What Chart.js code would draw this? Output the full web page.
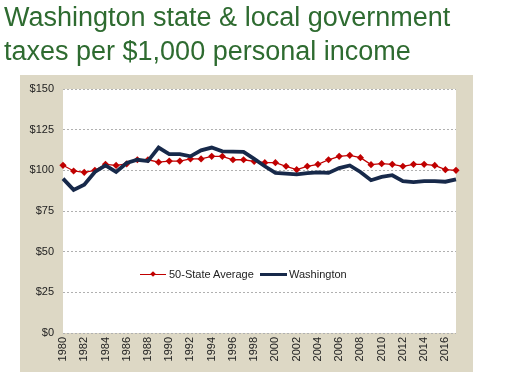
<!DOCTYPE html>
<html>
<head>
<meta charset="utf-8">
<script src="https://cdn.jsdelivr.net/npm/chart.js@4"></script>
<style>
  html, body { margin: 0; padding: 0; background: #ffffff; }
  body { width: 505px; height: 381px; position: relative; overflow: hidden; font-family: "Liberation Sans", Arial, sans-serif; }
  #title { position: absolute; left: 4px; top: 0px; margin: 0; font-size: 27px; line-height: 34px; font-weight: normal; color: #2e6b30; white-space: nowrap; }
  #wrap { position: absolute; left: 0; top: 0; width: 505px; height: 381px; }
  #legend { position: absolute; top: 267px; left: 140px; height: 14px; font-size: 11px; color: #222; }
  .item { position: absolute; top: 0; white-space: nowrap; line-height: 14px; }
  .ln { position: absolute; }
  .dia { position: absolute; width: 4px; height: 4px; background: #c00000; transform: rotate(45deg); }
</style>
</head>
<body>
<div id="wrap"><canvas id="c" width="505" height="381"></canvas></div>
<h1 id="title">Washington state &amp; local government<br>taxes per $1,000 personal income</h1>
<div id="legend"></div>
<script>
const years = [1980,1981,1982,1983,1984,1985,1986,1987,1988,1989,1990,1991,1992,1993,1994,1995,1996,1997,1998,1999,2000,2001,2002,2003,2004,2005,2006,2007,2008,2009,2010,2011,2012,2013,2014,2015,2016,2017];
const stateAverage = [103.1,99.6,98.8,100.0,103.7,103.0,104.0,106.5,106.5,105.0,105.7,105.7,107.0,107.0,108.6,108.6,106.5,106.5,105.5,104.7,104.7,102.5,100.4,102.5,103.7,106.5,108.6,109.2,107.8,103.5,104.1,103.7,102.5,103.7,103.7,103.0,100.4,100.0];
const washington = [94.9,88.0,91.2,99.0,103.0,99.0,104.5,106.5,105.7,114.0,110.0,110.0,108.6,112.3,114.0,111.7,111.5,111.3,107.0,102.5,98.5,98.0,97.5,98.3,98.8,98.4,101.4,103.0,99.0,93.9,96.0,97.0,93.4,92.8,93.4,93.4,93.0,94.5];
const yTicks = [0,25,50,75,100,125,150];
const seriesNames = ["50-State Average","Washington"];

const panelPlugin = {
  id: 'panel',
  beforeDraw(chart) {
    const ctx = chart.ctx, a = chart.chartArea;
    ctx.save();
    ctx.fillStyle = '#ddd8c5';
    ctx.fillRect(20, 75, 453, 297);
    ctx.fillStyle = '#ffffff';
    ctx.fillRect(a.left, a.top, a.right - a.left, a.bottom - a.top);
    ctx.restore();
  }
};

new Chart(document.getElementById('c'), {
  type: 'line',
  data: {
    labels: years.map(String),
    datasets: [
      { label: seriesNames[0], data: stateAverage, borderColor: '#c00000', backgroundColor: '#c00000', borderWidth: 1.3,
        pointStyle: 'rectRot', pointRadius: 3.6, pointBorderWidth: 0, pointBackgroundColor: '#c00000', tension: 0, order: 2 },
      { label: seriesNames[1], data: washington, borderColor: '#17294a', backgroundColor: '#17294a', borderWidth: 3.8,
        pointRadius: 0, tension: 0, order: 1 }
    ]
  },
  options: {
    responsive: false,
    animation: false,
    layout: { padding: { left: 20, right: 49, top: 89, bottom: 9 } },
    plugins: { legend: { display: false }, tooltip: { enabled: false } },
    scales: {
      x: {
        offset: false,
        grid: { display: false, drawTicks: false },
        border: { display: false },
        ticks: {
          autoSkip: false, maxRotation: 90, minRotation: 90, padding: 4,
          color: '#222', font: { family: 'Liberation Sans, Arial', size: 11 },
          callback: function(v, i) { const y = years[i]; return (y % 2 === 0) ? String(y) : ''; }
        },
        afterFit(s) { s.height = 39; }
      },
      y: {
        min: 0, max: 150,
        afterBuildTicks(s) { s.ticks = yTicks.map(v => ({ value: v })); },
        grid: { color: '#b0b0b0', lineWidth: 1, drawTicks: false },
        border: { display: false, dash: [2, 2] },
        ticks: { padding: 9, color: '#222', font: { family: 'Liberation Sans, Arial', size: 11 }, callback: v => '$' + v },
        afterFit(s) { s.width = 43; }
      }
    }
  },
  plugins: [panelPlugin]
});

// HTML legend
const lg = document.getElementById('legend');
lg.innerHTML =
  '<div class="item" style="left:0px;width:140px">' +
    '<div class="ln" style="left:0;top:7px;width:26px;height:1px;background:#c00000"></div>' +
    '<div class="dia" style="left:11px;top:5px"></div>' +
    '<span style="position:absolute;left:29px;top:0">' + seriesNames[0] + '</span></div>' +
  '<div class="item" style="left:120px;width:120px">' +
    '<div class="ln" style="left:0;top:6px;width:27px;height:3px;background:#17294a"></div>' +
    '<span style="position:absolute;left:29px;top:0">' + seriesNames[1] + '</span></div>';
</script>
</body>
</html>
